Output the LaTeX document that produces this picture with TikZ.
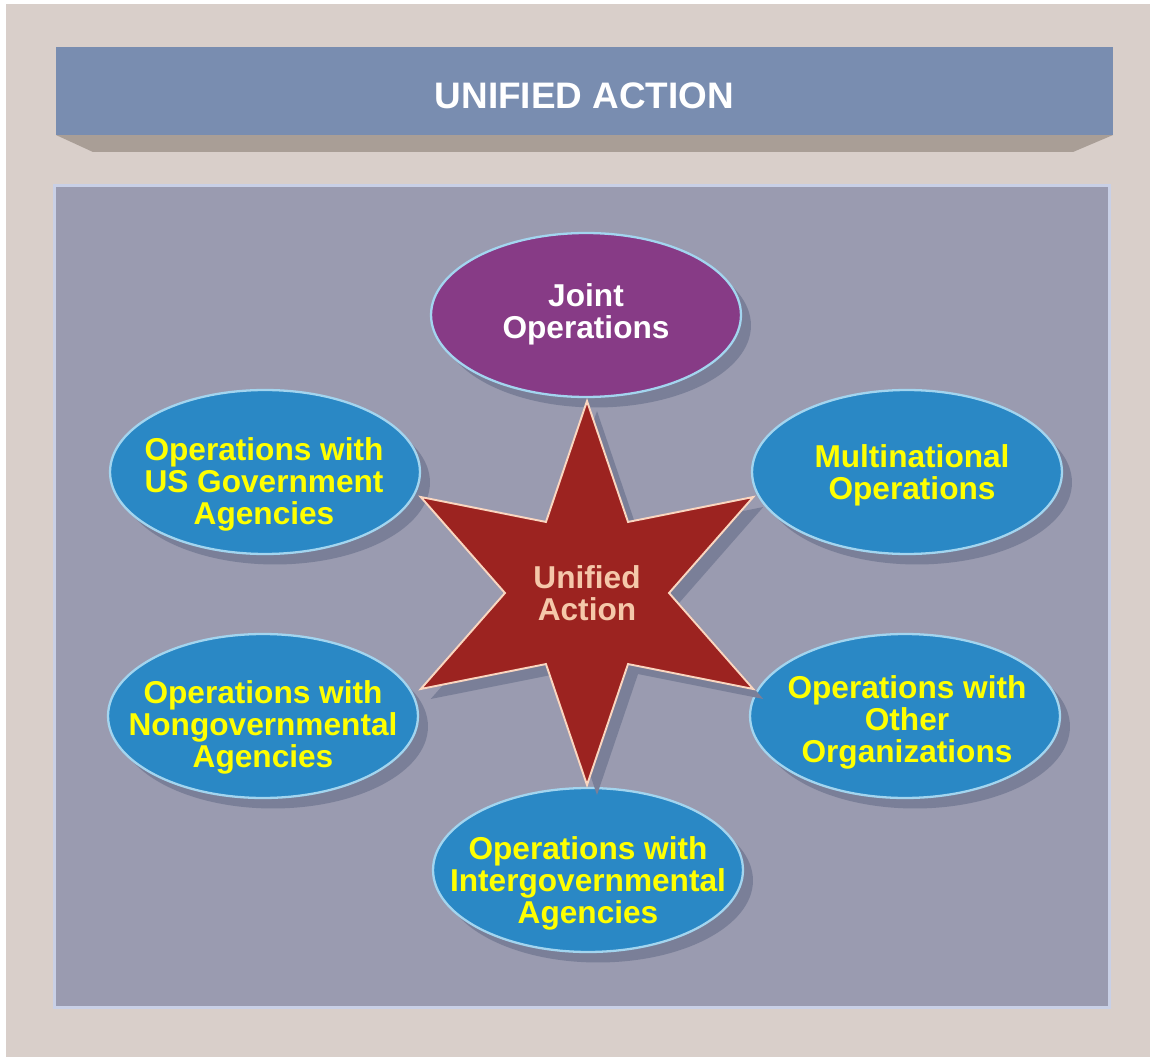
\documentclass[tikz,border=0pt]{standalone}
\usepackage{fontspec}
\setmainfont{Liberation Sans}
\usetikzlibrary{shapes.geometric,shadows}
\definecolor{bgbeige}{HTML}{D9CFCA}
\definecolor{bannerc}{HTML}{798DB0}
\definecolor{bannersh}{HTML}{A99E96}
\definecolor{panelc}{HTML}{9A9BB0}
\definecolor{panelb}{HTML}{C9D0E6}
\definecolor{purplec}{HTML}{873B86}
\definecolor{bluec}{HTML}{2A88C5}
\definecolor{ellb}{HTML}{A3D5EF}
\definecolor{shadc}{HTML}{7A7F98}
\definecolor{starc}{HTML}{9C2320}
\definecolor{starb}{HTML}{FAD6C0}
\definecolor{start}{HTML}{F5C8AA}
\definecolor{yellowc}{HTML}{FFFF00}
\tikzset{
  oval/.style={ellipse, draw=ellb, line width=1.3pt, minimum width=6.2cm, minimum height=3.28cm,
    inner sep=0pt,
    drop shadow={shadow xshift=0.2cm, shadow yshift=-0.21cm, fill=shadc, opacity=1}},
  blueoval/.style={oval, fill=bluec},
  purpleoval/.style={oval, fill=purplec},
  ovaltext/.style={align=center, inner sep=0pt, font=\fontsize{18}{18.2}\selectfont\bfseries},
  yellowtext/.style={ovaltext, text=yellowc},
  whitetext/.style={ovaltext, text=white},
  starnode/.style={star, star points=6, star point ratio=2.34, minimum size=7.68cm, inner sep=0pt,
    fill=starc, draw=starb, line width=1.1pt, text=start, align=center,
    font=\fontsize{18}{18.2}\selectfont\bfseries,
    drop shadow={shadow xshift=0.2cm, shadow yshift=-0.2cm, fill=shadc, opacity=1}}
}
\begin{document}
\begin{tikzpicture}[x=0.02cm,y=-0.02cm]
\useasboundingbox (0,0) rectangle (1150,1057);
\fill[white] (0,0) rectangle (1150,1057);
\fill[bgbeige] (6,4) rectangle (1150,1057);
% banner
\fill[bannersh] (56,135) -- (1113,135) -- (1073,152) -- (93,152) -- cycle;
\node[fill=bannerc, minimum width=21.14cm, minimum height=1.76cm, inner sep=0pt] (banner) at (584.5,91) {};
\node[text=white, inner sep=0pt, font=\fontsize{21}{21}\selectfont\bfseries] (title) at (584.5,96) {UNIFIED ACTION};
% panel
\node[fill=panelc, draw=panelb, line width=1.6pt, minimum width=21.1cm, minimum height=16.44cm, inner sep=0pt] (panel) at (582,596.5) {};
% ellipses
\node[purpleoval] (joint) at (586,315) {};
\node[whitetext] (jointt) at (586,314) {Joint\\Operations};
\node[blueoval] (usgov) at (265,472) {};
\node[yellowtext] (usgovt) at (264,484) {Operations with\\US Government\\Agencies};
\node[blueoval] (multi) at (907,472) {};
\node[yellowtext] (multit) at (912,475) {Multinational\\Operations};
\node[blueoval] (ngo) at (263,716) {};
\node[yellowtext] (ngot) at (263,727) {Operations with\\Nongovernmental\\Agencies};
\node[blueoval] (other) at (905,716) {};
\node[yellowtext] (othert) at (907,722) {Operations with\\Other\\Organizations};
\node[blueoval] (igo) at (588,870) {};
\node[yellowtext] (igot) at (588,883) {Operations with\\Intergovernmental\\Agencies};
% star
\node[starnode] (ua) at (587,593) {Unified\\Action};
\end{tikzpicture}
\end{document}
